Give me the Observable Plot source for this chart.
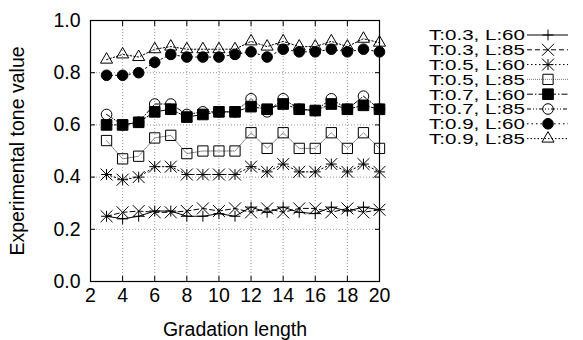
<!DOCTYPE html>
<html><head><meta charset="utf-8">
<script src="https://cdn.jsdelivr.net/npm/d3@7"></script>
<script src="https://cdn.jsdelivr.net/npm/@observablehq/plot@0.6"></script>
<style>
body{margin:0;background:#fff;font-family:"Liberation Sans",Arial,sans-serif}
#wrap{position:relative;width:583px;height:340px}
#legend{position:absolute;left:0;top:0}
</style>
</head><body>
<div id="wrap"></div>
<script>
const gradationLengths = [3,4,5,6,7,8,9,10,11,12,13,14,15,16,17,18,19,20];
const seriesLabels = ["T:0.3, L:60","T:0.3, L:85","T:0.5, L:60","T:0.5, L:85","T:0.7, L:60","T:0.7, L:85","T:0.9, L:60","T:0.9, L:85"];
const toneT03L60 = [0.25,0.24,0.25,0.27,0.27,0.25,0.25,0.26,0.25,0.285,0.265,0.285,0.265,0.26,0.285,0.27,0.285,0.275];
const toneT03L85 = [0.25,0.265,0.27,0.265,0.265,0.27,0.28,0.27,0.28,0.265,0.28,0.265,0.28,0.28,0.265,0.28,0.265,0.275];
const toneT05L60 = [0.41,0.39,0.40,0.44,0.44,0.41,0.41,0.41,0.41,0.44,0.42,0.45,0.42,0.42,0.45,0.42,0.45,0.42];
const toneT05L85 = [0.54,0.47,0.48,0.55,0.56,0.49,0.50,0.50,0.50,0.57,0.51,0.57,0.51,0.51,0.57,0.51,0.57,0.51];
const toneT07L60 = [0.60,0.60,0.61,0.65,0.66,0.63,0.64,0.65,0.65,0.67,0.66,0.68,0.66,0.655,0.68,0.66,0.675,0.66];
const toneT07L85 = [0.64,0.60,0.61,0.68,0.68,0.64,0.65,0.65,0.65,0.70,0.65,0.70,0.66,0.655,0.70,0.66,0.71,0.66];
const toneT09L60 = [0.79,0.79,0.80,0.84,0.87,0.86,0.86,0.86,0.87,0.88,0.86,0.89,0.88,0.88,0.89,0.88,0.89,0.88];
const toneT09L85 = [0.85,0.87,0.86,0.89,0.90,0.89,0.89,0.89,0.89,0.92,0.90,0.92,0.90,0.90,0.92,0.90,0.93,0.915];
const xTicks = [2,4,6,8,10,12,14,16,18,20];
const yTicks = [0,0.2,0.4,0.6,0.8,1.0];

const allValues = [toneT03L60,toneT03L85,toneT05L60,toneT05L85,toneT07L60,toneT07L85,toneT09L60,toneT09L85];

// styles: symbols list (multiple => overlaid), fill, line dash
const styles = [
  {sym:["plus"], r:[3.6], fill:"none", dash:null, lineStroke:"#000"},
  {sym:["times"], r:[5.5], fill:"none", dash:"5,3", lineStroke:"#000"},
  {sym:["plus","times"], r:[3.6,5.5], fill:"none", dash:"1.5,2.5", lineStroke:"#000"},
  {sym:["square"], r:[5.8], fill:"none", dash:"1,1", lineStroke:"#777"},
  {sym:["square"], r:[6], fill:"#000", dash:"6,2,1.5,2", lineStroke:"#000"},
  {sym:["circle"], r:[5.3], fill:"none", dash:"4,2,1,2,1,2", lineStroke:"#000"},
  {sym:["circle"], r:[5.3], fill:"#000", dash:"1.5,3", lineStroke:"#000"},
  {sym:["triangle"], r:[4.5], fill:"none", dash:"1.5,2", lineStroke:"#000"}
];

const tables = allValues.map((vals, s) => gradationLengths.map((x, i) => ({x, y: vals[i], series: seriesLabels[s]})));

const marks = [
  Plot.gridX(xTicks, {stroke:"#999", strokeOpacity:1, strokeDasharray:"1,2"}),
  Plot.gridY(yTicks, {stroke:"#999", strokeOpacity:1, strokeDasharray:"1,2"}),
];
tables.forEach((data, s) => {
  const st = styles[s];
  marks.push(Plot.line(data, {x:"x", y:"y", stroke:st.lineStroke, strokeWidth:1, strokeDasharray:st.dash}));
  st.sym.forEach((sy, k) => {
    marks.push(Plot.dot(data, {x:"x", y:"y", symbol:() => sy, r:st.r[k], stroke:"#000", strokeWidth:1, fill:st.fill}));
  });
});
marks.push(
  Plot.frame({stroke:"#000", strokeWidth:1.2}),
  Plot.axisX(xTicks, {anchor:"bottom", tickSize:0, tickPadding:7, fontSize:19.5, label:"Gradation length", labelAnchor:"center", labelArrow:"none", labelOffset:54}),
  Plot.axisX(xTicks, {anchor:"bottom", tickSize:-5, tickFormat:() => "", label:null}),
  Plot.axisX(xTicks, {anchor:"top", tickSize:-5, tickFormat:() => "", label:null}),
  Plot.axisY(yTicks, {anchor:"left", tickSize:0, tickPadding:10, tickFormat:d3.format(".1f"), fontSize:19.5, label:"Experimental tone value", labelAnchor:"center", labelArrow:"none", labelOffset:80}),
  Plot.axisY(yTicks, {anchor:"left", tickSize:-5, tickFormat:() => "", label:null}),
  Plot.axisY(yTicks, {anchor:"right", tickSize:-5, tickFormat:() => "", label:null})
);

const chart = Plot.plot({
  width:583, height:340,
  marginLeft:90, marginRight:204, marginTop:20, marginBottom:59,
  style:{fontFamily:"'Liberation Sans', Arial, sans-serif", color:"#000", background:"#fff"},
  x:{domain:[2,20]},
  y:{domain:[0,1]},
  symbol:{type:"identity"},
  marks
});
const wrap = document.getElementById("wrap");
wrap.appendChild(chart);

// legend
const lg = d3.select(wrap).append("svg").attr("id","legend").attr("width",583).attr("height",340);
const symMap = {plus:d3.symbolPlus, times:d3.symbolTimes, square:d3.symbolSquare, circle:d3.symbolCircle, triangle:d3.symbolTriangle};
seriesLabels.forEach((lab, i) => {
  const st = styles[i];
  const cy = 35 + i*14.8;
  const g = lg.append("g");
  g.append("text").attr("x",525).attr("y",cy).attr("dy","0.36em").attr("text-anchor","end")
    .attr("font-size",15).attr("textLength",96).attr("lengthAdjust","spacingAndGlyphs")
    .attr("font-family","'Liberation Sans', Arial, sans-serif").text(lab);
  g.append("line").attr("x1",527).attr("x2",568).attr("y1",cy).attr("y2",cy)
    .attr("stroke",st.lineStroke).attr("stroke-width",1).attr("stroke-dasharray",st.dash);
  st.sym.forEach((sy, k) => {
    g.append("path").attr("transform",`translate(548,${cy})`)
      .attr("d", d3.symbol(symMap[sy], Math.PI*st.r[k]*st.r[k])())
      .attr("fill", st.fill).attr("stroke","#000").attr("stroke-width",1);
  });
});
</script>
</body></html>
